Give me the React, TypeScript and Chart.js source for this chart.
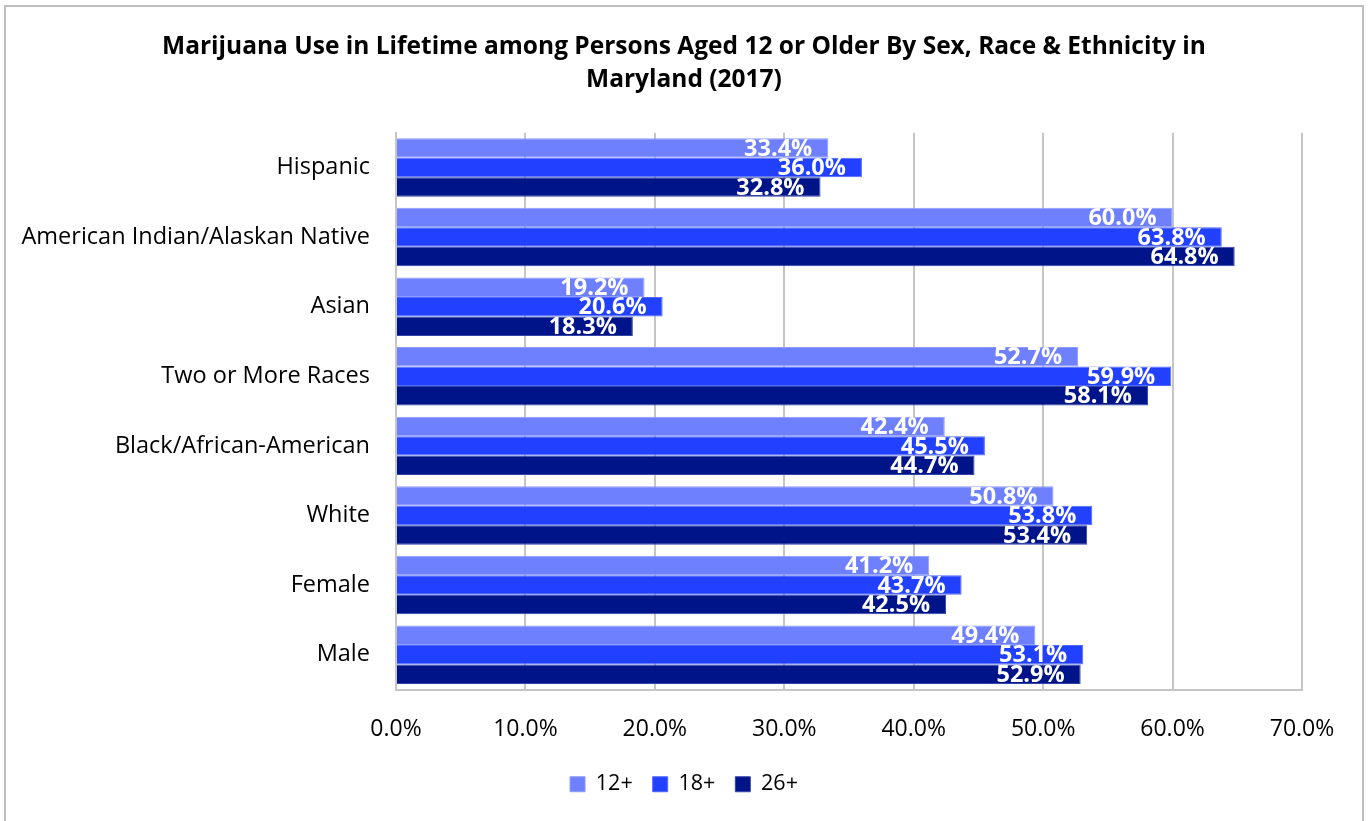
import React, { useEffect, useRef } from "react";
import { Chart, registerables } from "chart.js";

Chart.register(...registerables);

const titleLines = [
  "Marijuana Use in Lifetime among Persons Aged 12 or Older By Sex, Race & Ethnicity in",
  "Maryland (2017)",
];
const categories = [
  "Hispanic",
  "American Indian/Alaskan Native",
  "Asian",
  "Two or More Races",
  "Black/African-American",
  "White",
  "Female",
  "Male",
];
const seriesNames = ["12+", "18+", "26+"];
const age12 = [33.4, 60.0, 19.2, 52.7, 42.4, 50.8, 41.2, 49.4];
const age18 = [36.0, 63.8, 20.6, 59.9, 45.5, 53.8, 43.7, 53.1];
const age26 = [32.8, 64.8, 18.3, 58.1, 44.7, 53.4, 42.5, 52.9];
const xMin = 0;
const xMax = 70;
const xStep = 10;

const FONT = "'Open Sans', sans-serif";

const valueLabels = {
  id: "valueLabels",
  afterDatasetsDraw(chart: any) {
    const ctx = chart.ctx;
    ctx.save();
    ctx.font = `bold 23.5px ${FONT}`;
    ctx.fillStyle = "#ffffff";
    ctx.textAlign = "right";
    ctx.textBaseline = "middle";
    chart.data.datasets.forEach((ds: any, i: number) => {
      const meta = chart.getDatasetMeta(i);
      meta.data.forEach((el: any, j: number) => {
        ctx.fillText(Number(ds.data[j]).toFixed(1) + "%", el.x - 16, el.y + 1);
      });
    });
    ctx.restore();
  },
};

const frame = {
  id: "frame",
  beforeDraw(chart: any) {
    const ctx = chart.ctx;
    ctx.save();
    ctx.fillStyle = "#ffffff";
    ctx.fillRect(0, 0, chart.width, chart.height);
    ctx.strokeStyle = "#BFBFBF";
    ctx.lineWidth = 2;
    ctx.strokeRect(5, 6, chart.width - 10, chart.height + 20);
    ctx.restore();
  },
};

export default function App() {
  const ref = useRef<HTMLCanvasElement | null>(null);
  useEffect(() => {
    if (!ref.current) return;
    const chart = new Chart(ref.current, {
      type: "bar",
      data: {
        labels: categories,
        datasets: [
          { label: seriesNames[0], data: age12, backgroundColor: "#6F80FF", borderColor: "#8E9CFF", borderWidth: 1 },
          { label: seriesNames[1], data: age18, backgroundColor: "#2140FF", borderColor: "#5068FF", borderWidth: 1 },
          { label: seriesNames[2], data: age26, backgroundColor: "#00148A", borderColor: "#3344A8", borderWidth: 1 },
        ],
      },
      options: {
        indexAxis: "y",
        animation: false,
        responsive: true,
        maintainAspectRatio: false,
        layout: { padding: { left: 0, right: 0, top: 0, bottom: 16 } },
        datasets: { bar: { categoryPercentage: 0.84, barPercentage: 1.0 } },
        scales: {
          x: {
            min: xMin,
            max: xMax,
            ticks: {
              stepSize: xStep,
              padding: 26,
              color: "#000",
              font: { family: FONT, size: 23 },
              callback: (v: any) => Number(v).toFixed(1) + "%",
            },
            grid: { color: "#C6C6C6", lineWidth: 2, drawTicks: false },
            border: { color: "#C6C6C6", width: 2 },
            afterFit: (scale: any) => {
              scale.height = 64;
            },
          },
          y: {
            ticks: {
              padding: 26,
              color: "#000",
              font: { family: FONT, size: 23.5 },
            },
            grid: { display: false, drawTicks: false },
            border: { color: "#C6C6C6", width: 2 },
            afterFit: (scale: any) => {
              scale.width = 396;
            },
          },
          yRightSpace: {
            type: "category",
            axis: "y",
            position: "right",
            display: true,
            ticks: { display: false },
            grid: { display: false, drawTicks: false },
            border: { display: false },
            afterFit: (scale: any) => {
              scale.width = 66;
            },
          },
        },
        plugins: {
          title: {
            display: true,
            text: titleLines,
            color: "#000",
            font: { family: FONT, size: 24.5, weight: "bold", lineHeight: 1.36 },
            padding: { top: 30, bottom: 36 },
          },
          legend: {
            position: "bottom",
            labels: {
              boxWidth: 15,
              boxHeight: 15,
              padding: 20,
              color: "#000",
              font: { family: FONT, size: 21.5 },
            },
          },
          tooltip: { enabled: false },
        },
      },
      plugins: [frame, valueLabels],
    } as any);
    return () => chart.destroy();
  }, []);
  return (
    <div style={{ position: "absolute", left: 0, top: 0, width: 1368, height: 821 }}>
      <canvas ref={ref} />
    </div>
  );
}
